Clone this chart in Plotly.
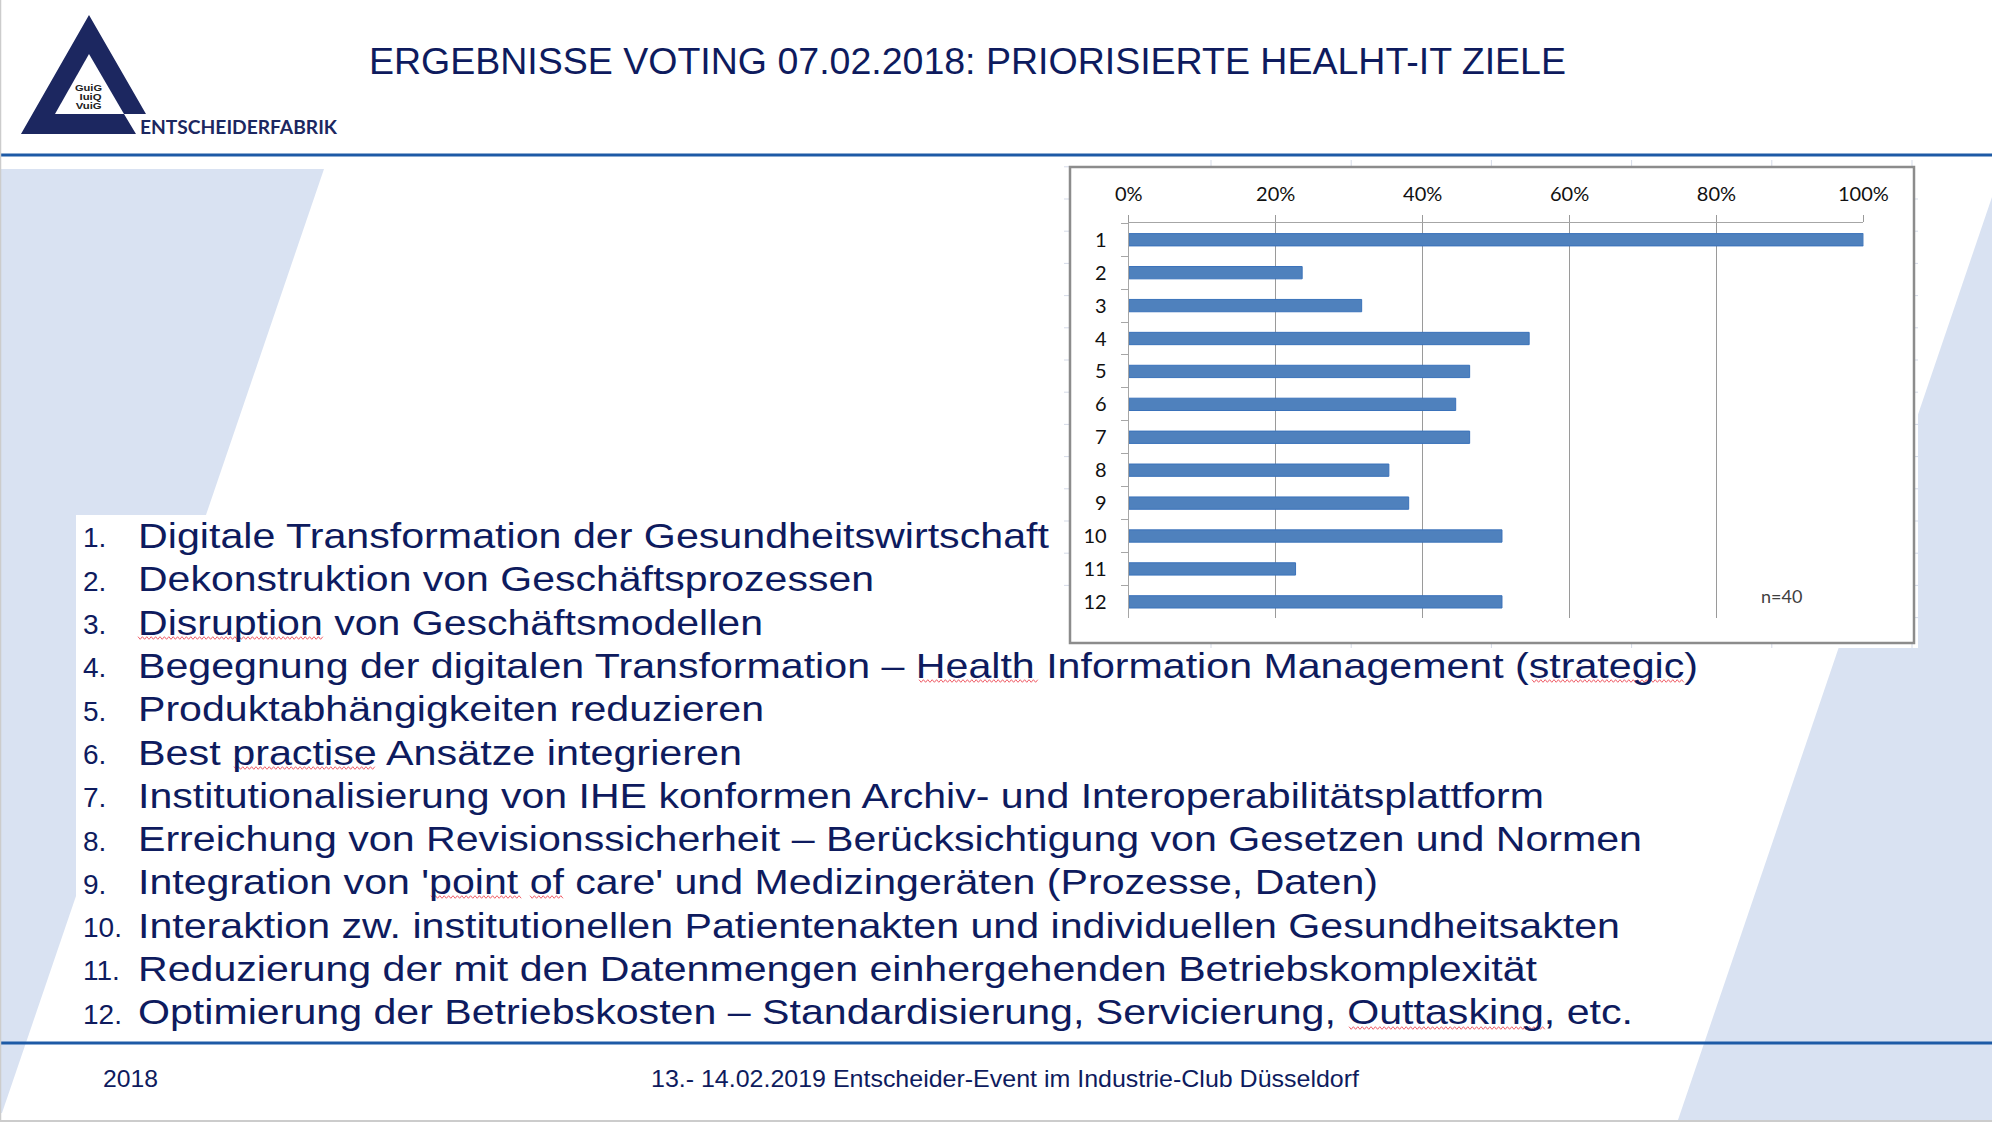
import json
import plotly.graph_objects as go

# ---- data ----
categories = ["1", "2", "3", "4", "5", "6", "7", "8", "9", "10", "11", "12"]
shares = [1.0, 0.236, 0.317, 0.545, 0.464, 0.445, 0.464, 0.354, 0.381, 0.508, 0.227, 0.508]
x_ticks = [0, 0.2, 0.4, 0.6, 0.8, 1.0]
x_tick_labels = ["0%", "20%", "40%", "60%", "80%", "100%"]
goal_numbers = ["1.", "2.", "3.", "4.", "5.", "6.", "7.", "8.", "9.", "10.", "11.", "12."]
goal_texts = [
    "Digitale Transformation der Gesundheitswirtschaft",
    "Dekonstruktion von Geschäftsprozessen",
    "Disruption von Geschäftsmodellen",
    "Begegnung der digitalen Transformation – Health Information Management (strategic)",
    "Produktabhängigkeiten reduzieren",
    "Best practise Ansätze integrieren",
    "Institutionalisierung von IHE konformen Archiv- und Interoperabilitätsplattform",
    "Erreichung von Revisionssicherheit – Berücksichtigung von Gesetzen und Normen",
    "Integration von 'point of care' und Medizingeräten (Prozesse, Daten)",
    "Interaktion zw. institutionellen Patientenakten und individuellen Gesundheitsakten",
    "Reduzierung der mit den Datenmengen einhergehenden Betriebskomplexität",
    "Optimierung der Betriebskosten – Standardisierung, Servicierung, Outtasking, etc.",
]
title_text = "ERGEBNISSE VOTING 07.02.2018: PRIORISIERTE HEALHT-IT ZIELE"
footer_left = "2018"
footer_center = "13.- 14.02.2019 Entscheider-Event im Industrie-Club Düsseldorf"
brand_text = "ENTSCHEIDERFABRIK"
logo_lines = ["GuiG", "IuiQ", "VuiG"]

# rendered widths of the horizontally stretched slide text (style, not data)
goal_right_edges = [1048, 873, 762, 1697, 763, 741, 1543, 1641, 1377, 1619, 1536, 1632]

W, H = 1992, 1122
NAVY = "#0e1b5e"
BAND = "#d9e2f2"
SANS = "Liberation Sans"


def px(x):
    return x / W


def py(y):
    return 1 - y / H


shapes = []
stretch = {}


def poly(points, fill):
    d = "M" + " L".join(f"{px(x):.5f},{py(y):.5f}" for x, y in points) + " Z"
    shapes.append(dict(type="path", xref="paper", yref="paper", path=d,
                       fillcolor=fill, line=dict(width=0), layer="below"))


def seg(x0, y0, x1, y1, color, width):
    shapes.append(dict(type="line", xref="paper", yref="paper", x0=px(x0), y0=py(y0),
                       x1=px(x1), y1=py(y1), line=dict(color=color, width=width), layer="below"))


def box(x0, y0, x1, y1, fill, line=None, lw=0):
    shapes.append(dict(type="rect", xref="paper", yref="paper", x0=px(x0), y0=py(y0),
                       x1=px(x1), y1=py(y1), fillcolor=fill,
                       line=dict(color=line, width=lw) if line else dict(width=0), layer="below"))


# page decoration
poly([(1, 169), (324, 169), (2, 1113), (1, 1113)], BAND)
poly([(1992, 197), (1992, 1120), (1678, 1120)], BAND)
box(76, 515, 1100, 1040, "white")
box(1060, 160, 1918, 648, "white")
for i in range(6):
    x = 1211 + 140.2 * i
    seg(x, 160, x, 166, "#d5dbe8", 1)
    seg(x, 643, x, 648, "#d5dbe8", 1)
for i in range(14):
    y = 199 + 32.2 * i
    seg(1914, y, 1918, y, "#d5dbe8", 1)
    seg(1064, y - 32.2, 1070, y - 32.2, "#d5dbe8", 1)
box(1070, 167, 1914, 643, "white", "#8c8c8c", 2.5)
seg(1, 155, W, 155, "#1d5aa6", 3)
seg(1, 1043, W, 1043, "#1d5aa6", 3)
seg(0.5, 0, 0.5, H, "#cccccc", 1.5)
seg(0, 1121, W, 1121, "#cccccc", 2)

# logo
poly([(89, 15), (146, 114), (124, 114), (136, 134), (21, 134)], "#1c2760")
poly([(89, 54), (124, 114), (55, 114)], "white")

# spell-check underlines
squiggles = [(138, 324, 638), (234, 376, 768), (919, 1039, 681), (1532, 1685, 681),
             (431, 522, 897), (530, 564, 897), (1349, 1546, 1028)]
for x0, x1, y in squiggles:
    pts = []
    x = x0
    up = True
    while x <= x1:
        pts.append((x, y - 1.3 if up else y + 1.3))
        x += 2.2
        up = not up
    d = "M" + " L".join(f"{px(a):.5f},{py(b):.5f}" for a, b in pts)
    shapes.append(dict(type="path", xref="paper", yref="paper", path=d,
                       line=dict(color="#f0606a", width=1), layer="above"))

annotations = []


def text(s, x, baseline, size, color=NAVY, family=SANS, anchor="left", bold=False, asc=0.905, desc=0.212, width=None):
    yc = baseline - (asc - desc) / 2 * size
    annotations.append(dict(text=f"<b>{s}</b>" if bold else s, xref="paper", yref="paper",
                            x=px(x), y=py(yc), xanchor=anchor, yanchor="middle", align=anchor,
                            showarrow=False, borderpad=0,
                            font=dict(family=family, size=size, color=color)))
    if width:
        stretch[s] = width


text(title_text, 368, 74, 36, width=1197)
for i, (n, t, r) in enumerate(zip(goal_numbers, goal_texts, goal_right_edges)):
    base = 547.7 + 43.3 * i
    text(n, 82, base, 28)
    text(t, 137, base, 35, width=r - 137)
text(footer_left, 102, 1086.5, 24, width=55)
text(footer_center, 650, 1086.5, 24, width=708)
text(brand_text, 139, 134, 19, color="#1c2760", family="Lato", bold=True, asc=0.987, desc=0.213, width=197)
for s, b, w in zip(logo_lines, [90.7, 99.7, 108.7], [27, 22, 26]):
    text(s, 102.5, b, 9, color="#222222", anchor="right", bold=True, width=w)
text("n=40", 1760, 603, 18, color="#404040", family="Lato", asc=0.987, desc=0.213)

fig = go.Figure(go.Bar(
    x=shares, y=categories, orientation="h",
    marker=dict(color="#4f81bd", line=dict(color="#3a72ba", width=1)),
    hoverinfo="skip",
))
fig.update_layout(
    width=W, height=H, autosize=False,
    margin=dict(l=0, r=0, t=0, b=0, pad=0, autoexpand=False),
    paper_bgcolor="white", plot_bgcolor="rgba(0,0,0,0)",
    showlegend=False, bargap=0.626,
    shapes=shapes, annotations=annotations,
    xaxis=dict(domain=[px(1128.8), px(1863.4)], range=[0, 1], side="top",
               tickmode="array", tickvals=x_ticks, ticktext=x_tick_labels,
               showgrid=True, gridcolor="#9a9a9a", gridwidth=1.3,
               showline=True, linecolor="#a6a6a6", linewidth=1.3,
               ticks="outside", ticklen=7, tickcolor="#9a9a9a", tickwidth=1.3,
               ticklabelstandoff=6, zeroline=False,
               tickfont=dict(family="Lato", size=20, color="#111111")),
    yaxis=dict(domain=[py(618.3), py(223.3)], type="category", categoryorder="array",
               categoryarray=categories, autorange="reversed",
               tickson="boundaries", ticks="outside", ticklen=7, tickcolor="#a6a6a6", tickwidth=1.3,
               showline=True, linecolor="#a6a6a6", linewidth=1.3, showgrid=False,
               ticklabelstandoff=17, zeroline=False,
               tickfont=dict(family="Lato", size=20, color="#111111")),
)
post = """
document.body.style.margin='0';document.body.style.overflow='hidden';
var stretch = %s;
document.querySelectorAll('.annotation-text').forEach(function(t){
  var w = stretch[t.textContent];
  if(w){t.setAttribute('textLength', w);t.setAttribute('lengthAdjust','spacingAndGlyphs');}
});
""" % json.dumps(stretch, ensure_ascii=False)
fig.write_html("out.html", post_script=post, config=dict(displayModeBar=False))
